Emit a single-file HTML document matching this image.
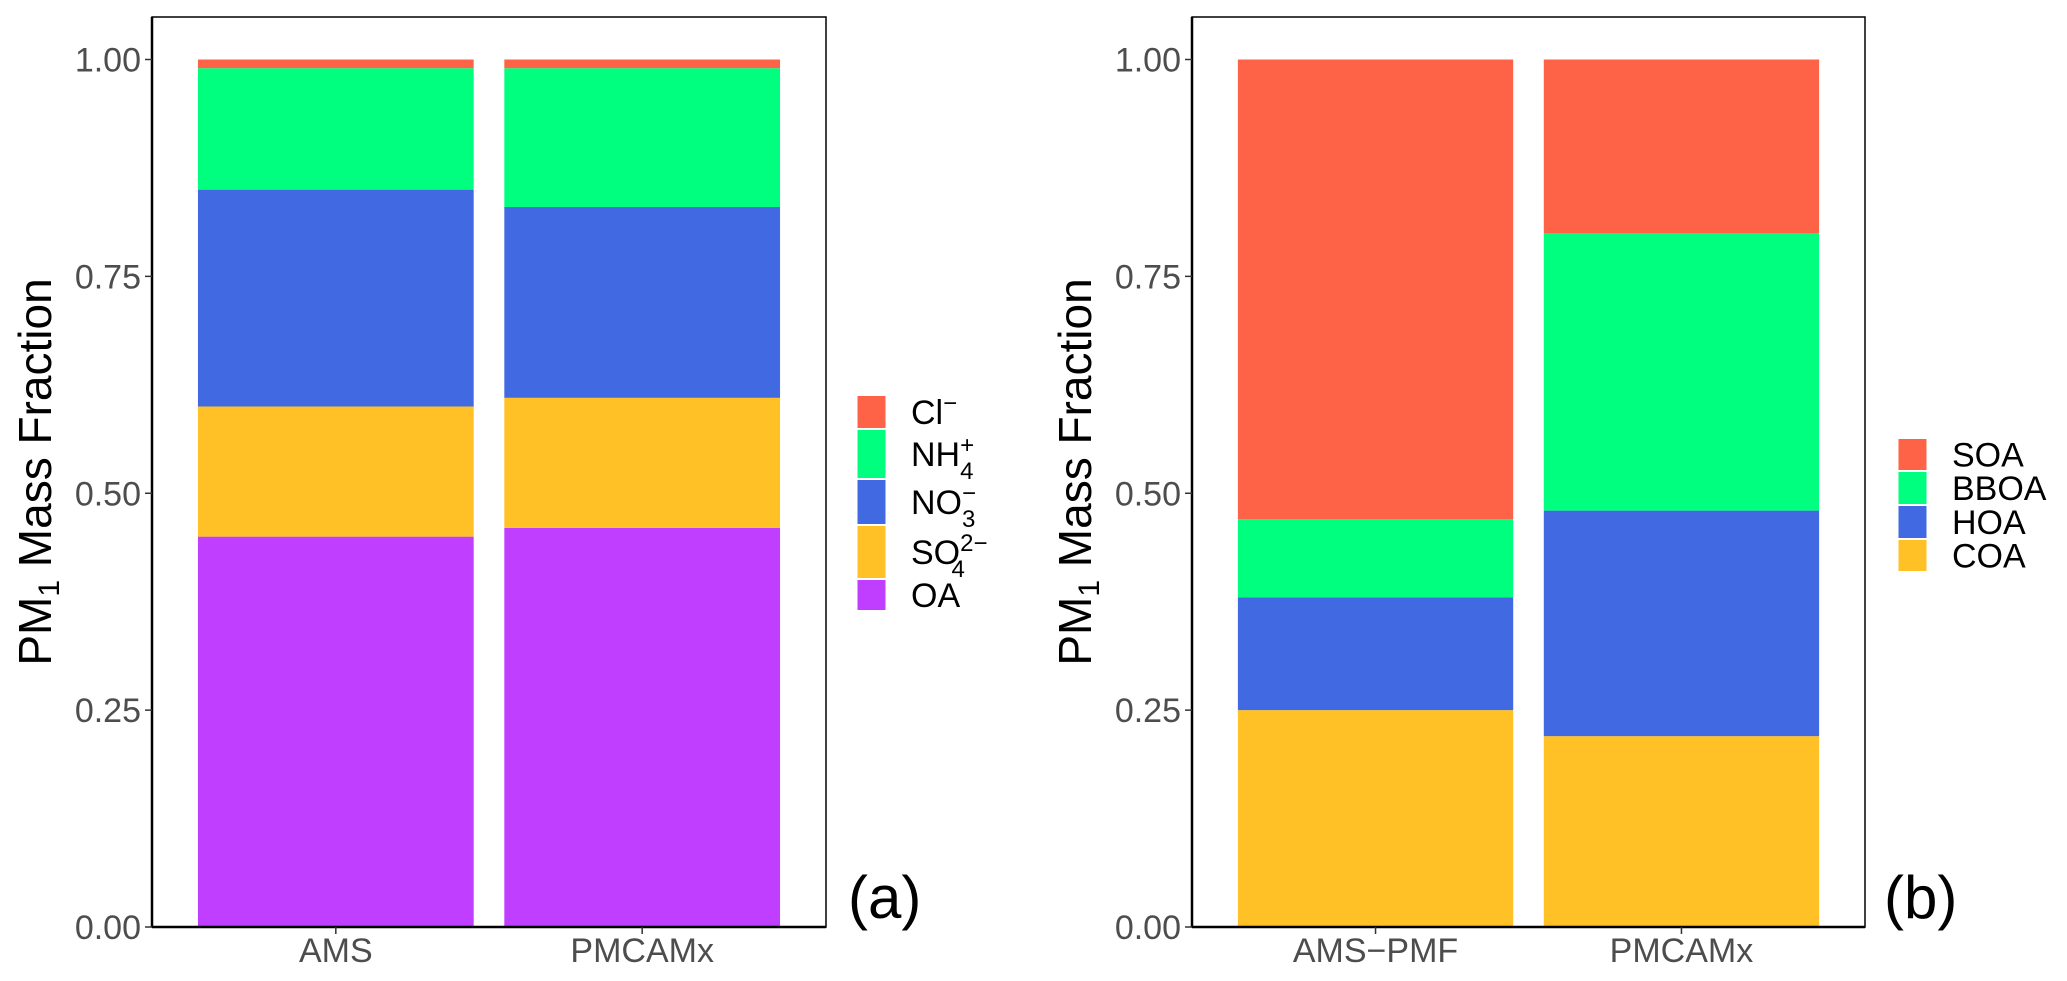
<!DOCTYPE html>
<html><head><meta charset="utf-8"><style>
html,body{margin:0;padding:0;background:#fff;}
svg{display:block;font-family:"Liberation Sans",Arial,sans-serif;}
</style></head><body>
<svg id="chart" width="2067" height="981" viewBox="0 0 2067 981" xmlns="http://www.w3.org/2000/svg"></svg>
<script>
const NS="http://www.w3.org/2000/svg";
const catsA=["AMS","PMCAMx"];
const seriesA=["OA","SO4","NO3","NH4","Cl"];
const valsA_OA=[0.45,0.46];
const valsA_SO4=[0.15,0.15];
const valsA_NO3=[0.25,0.22];
const valsA_NH4=[0.14,0.16];
const valsA_Cl=[0.01,0.01];
const catsB=["AMS\u2212PMF","PMCAMx"];
const seriesB=["COA","HOA","BBOA","SOA"];
const valsB_COA=[0.25,0.22];
const valsB_HOA=[0.13,0.26];
const valsB_BBOA=[0.09,0.32];
const valsB_SOA=[0.53,0.20];
const yTicks=[0,0.25,0.5,0.75,1.0];
const yTickLabels=["0.00","0.25","0.50","0.75","1.00"];

const colors={OA:"#BF3EFF",SO4:"#FFC125",NO3:"#4169E1",NH4:"#00FF7F",Cl:"#FF6347",
  COA:"#FFC125",HOA:"#4169E1",BBOA:"#00FF7F",SOA:"#FF6347"};
const svg=document.getElementById("chart");
function mk(tag,attrs,parent){const e=document.createElementNS(NS,tag);for(const k in attrs)e.setAttribute(k,attrs[k]);(parent||svg).appendChild(e);return e;}

function panel(px0,px1,cats,series,vals,tag,labelX,legendItems,legY,legKeyX,legRowHeights){
  const y0=927,y1=59.5;
  const yScale=v=>y0-(y0-y1)*v;
  const g=mk("g",{});
  
  
  const plotW=px1-px0;
  const band=plotW/2.2;
  const barW=band*0.9;
  function cxPos(i){return px0+band*(0.6+i);}
  cats.forEach((c,i)=>{
    let cum=0;
    series.forEach(s=>{
      const v=vals[s][i];
      const r=mk("rect",{x:cxPos(i)-barW/2,y:yScale(cum+v),width:barW,height:yScale(cum)-yScale(cum+v),fill:colors[s]},g);
      
      
      cum+=v;
    });
  });
  const fr=mk("rect",{x:px0,y:17,width:plotW,height:y0-17,fill:"none",stroke:"#000","stroke-width":1.5},g);
  
  
  mk("line",{x1:px0,y1:17,x2:px0,y2:y0,stroke:"#000","stroke-width":2.5},g);
  mk("line",{x1:px0,y1:y0,x2:px1,y2:y0,stroke:"#000","stroke-width":2.5},g);
  yTicks.forEach((t,k)=>{
    const y=yScale(t);
    mk("line",{x1:px0-7,y1:y,x2:px0,y2:y,stroke:"#333","stroke-width":1.5},g);
    const tx=mk("text",{x:px0-11,y:y+12,"text-anchor":"end","font-size":34,fill:"#4d4d4d"},g);
    tx.textContent=yTickLabels[k];
    
    
  });
  cats.forEach((c,i)=>{
    const x=cxPos(i);
    mk("line",{x1:x,y1:y0,x2:x,y2:y0+7,stroke:"#333","stroke-width":1.5},g);
    const tx=mk("text",{x:x,y:962,"text-anchor":"middle","font-size":34,fill:"#4d4d4d"},g);
    tx.textContent=c;
    
    
  });
  const tt=mk("text",{x:0,y:0,"text-anchor":"middle","font-size":46,fill:"#000",transform:"translate("+(px0-101)+",472) rotate(-90)"},g);
  tt.innerHTML='PM<tspan font-size="30" dy="8">1</tspan><tspan dy="-8"> Mass Fraction</tspan>';
  
  
  const pl=mk("text",{x:labelX,y:918,"font-size":60,fill:"#000"},g);
  pl.textContent="("+tag+")";
  
  
  const lg=mk("g",{},g);
  
  
  let y=legY;
  legendItems.forEach((it,k)=>{
    const h=legRowHeights[k];
    const r=mk("rect",{x:legKeyX,y:y+0.5,width:29,height:h-1,fill:colors[it.key],stroke:"#fff","stroke-width":1},lg);
    
    
    const t=mk("text",{x:legKeyX+54,y:y+h/2+12,"font-size":34,fill:"#000"},lg);
    t.innerHTML=it.html;
    
    
    y+=h;
  });
}
panel(152,826,catsA,seriesA,{OA:valsA_OA,SO4:valsA_SO4,NO3:valsA_NO3,NH4:valsA_NH4,Cl:valsA_Cl},"a",848,
 [{key:"Cl",html:'Cl<tspan font-size="24" dy="-13">\u2212</tspan>'},
  {key:"NH4",html:'NH<tspan font-size="24" dy="-13">+</tspan><tspan font-size="24" dx="-14" dy="26">4</tspan>'},
  {key:"NO3",html:'NO<tspan font-size="24" dy="-13">\u2212</tspan><tspan font-size="24" dx="-14" dy="26">3</tspan>'},
  {key:"SO4",html:'SO<tspan font-size="24" dy="-13">2\u2212</tspan><tspan font-size="24" dx="-36" dy="26">4</tspan>'},
  {key:"OA",html:'OA'}],395,857,[34,50,46,54,32]);
panel(1192,1865,catsB,seriesB,{COA:valsB_COA,HOA:valsB_HOA,BBOA:valsB_BBOA,SOA:valsB_SOA},"b",1884,
 [{key:"SOA",html:"SOA"},{key:"BBOA",html:"BBOA"},{key:"HOA",html:"HOA"},{key:"COA",html:"COA"}],438,1898,[33,34,34,33]);
</script>
</body></html>
